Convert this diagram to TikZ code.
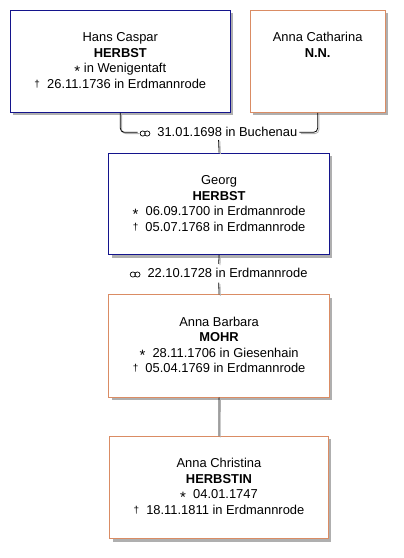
\documentclass[tikz,border=0pt]{standalone}
\usepackage{fontspec}
\setmainfont{Liberation Sans}
\usetikzlibrary{shadows}
\definecolor{boxblue}{RGB}{20,20,140}
\definecolor{boxorange}{RGB}{218,140,100}
\definecolor{shadowgray}{RGB}{175,175,175}
\newcommand{\birthsym}{\smash{\fontsize{15}{15}\selectfont\raisebox{-3.5pt}{*}}}
\newcommand{\deathsym}{\smash{\fontsize{10}{10}\selectfont\raisebox{1pt}{†}}}
\newcommand{\marrsym}{\tikz[baseline=0pt, x=1pt, y=1pt]{\draw[line width=0.7pt] (2.8,3.4) circle[radius=2.6] (7.4,3.4) circle[radius=2.6];}}
\newcommand{\firstline}{\rule{0pt}{10pt}}
\tikzset{
  x=1pt, y=-1pt,
  personbox/.style={draw=#1, line width=0.9pt, fill=white, inner sep=0pt,
    anchor=north west,
    drop shadow={shadow xshift=3pt, shadow yshift=-3pt, fill=shadowgray, opacity=1}},
  persontext/.style={anchor=north, align=center, inner sep=0pt,
    font=\fontsize{12.9}{15.6}\selectfont},
  marrlabel/.style={inner xsep=2pt, inner ysep=4.5pt, fill=white,
    font=\fontsize{12.9}{15}\selectfont},
  conn/.style={draw=black, line width=0.8pt},
  connshadow/.style={draw=shadowgray, line width=0.8pt,
    transform canvas={shift={(1.3pt,-1.3pt)}}},
}
\begin{document}
\begin{tikzpicture}
\useasboundingbox (0,0) rectangle (404,558);

% person boxes
\node[personbox=boxblue, minimum width=219.7pt, minimum height=102pt] (hc) at (10,10) {};
\node[personbox=boxorange, minimum width=135pt, minimum height=102pt] (ac) at (249.7,10) {};
\node[personbox=boxblue, minimum width=220.7pt, minimum height=101.6pt] (g) at (108.3,152.7) {};
\node[personbox=boxorange, minimum width=220.7pt, minimum height=102.4pt] (ab) at (108.3,294.3) {};
\node[personbox=boxorange, minimum width=218.4pt, minimum height=102.3pt] (ach) at (109.3,436) {};

% texts
\node[persontext] (hct) at ([yshift=-21.5pt]hc.north) {\firstline Hans Caspar\\ \textbf{HERBST}\\ \birthsym\ in Wenigentaft\\ \deathsym\ \ 26.11.1736 in Erdmannrode};
\node[persontext] (act) at ([yshift=-21.5pt]ac.north) {\firstline Anna Catharina\\ \textbf{N.N.}};
\node[persontext] (gt) at ([yshift=-21.5pt]g.north) {\firstline Georg\\ \textbf{HERBST}\\ \birthsym\ \ 06.09.1700 in Erdmannrode\\ \deathsym\ \ 05.07.1768 in Erdmannrode};
\node[persontext] (abt) at ([yshift=-21.5pt]ab.north) {\firstline Anna Barbara\\ \textbf{MOHR}\\ \birthsym\ \ 28.11.1706 in Giesenhain\\ \deathsym\ \ 05.04.1769 in Erdmannrode};
\node[persontext] (acht) at ([yshift=-21.5pt]ach.north) {\firstline Anna Christina\\ \textbf{HERBSTIN}\\ \birthsym\ \ 04.01.1747\\ \deathsym\ \ 18.11.1811 in Erdmannrode};

% marriage labels
\node[marrlabel] (m1) at (218.5,132.3) {\marrsym\ \ 31.01.1698 in Buchenau};
\node[marrlabel] (m2) at (218.7,273.3) {\marrsym\ \ 22.10.1728 in Erdmannrode};
\coordinate (s1) at (218.6,140);

% connectors: shadows
\begin{scope}[rounded corners=4pt]
\draw[connshadow] (hc.south) |- (m1.west);
\draw[connshadow] (m1.east) -| (ac.south);
\end{scope}
\draw[connshadow] (s1) -- (g.north);
\draw[connshadow] (g.south) -- (m2.north);
\draw[connshadow] (m2.south) -- (ab.north);
\draw[connshadow] (ab.south) -- (ach.north);

% connectors
\begin{scope}[rounded corners=4pt]
\draw[conn] (hc.south) |- (m1.west);
\draw[conn] (m1.east) -| (ac.south);
\end{scope}
\draw[conn] (s1) -- (g.north);
\draw[conn] (g.south) -- (m2.north);
\draw[conn] (m2.south) -- (ab.north);
\draw[conn] (ab.south) -- (ach.north);
\end{tikzpicture}
\end{document}
